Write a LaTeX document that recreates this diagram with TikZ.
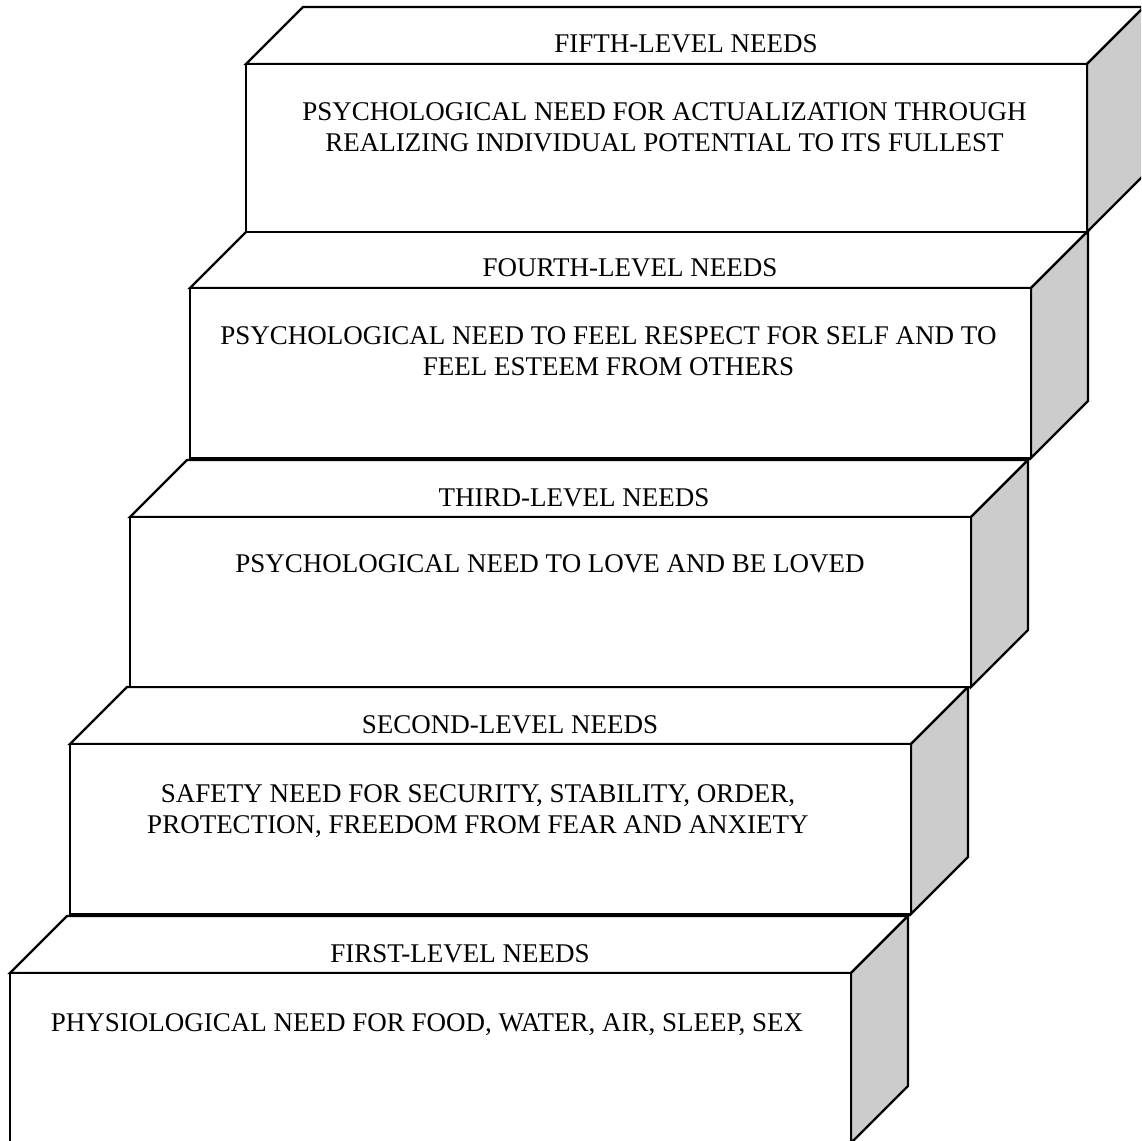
\documentclass[tikz,border=0pt]{standalone}
\usepackage{fontspec}
\setmainfont{Liberation Serif}
\definecolor{sidegray}{RGB}{204,204,204}
\begin{document}
\begin{tikzpicture}[x=1pt,y=-1pt,line width=2.2pt,line join=miter,
  face/.style={draw=black,fill=white},
  side/.style={draw=black,fill=sidegray},
  lvl/.style={font=\fontsize{27}{31}\selectfont,inner sep=0pt,anchor=base},
  body/.style={font=\fontsize{27}{31}\selectfont,inner sep=0pt,anchor=base,align=center}]
\useasboundingbox (0,0) rectangle (1141,1141);
\clip (0,0) rectangle (1141,1141);
\foreach \L/\T/\B/\n in {10/973/1143/1,70/744/914/2,130/517/687/3,190/288/458/4,246/64/232/5}{
  \draw[face] (\L,\T) -- ++(57,-57) -- ++(841,0) -- ++(-57,57) -- cycle;
  \draw[side] (\L+841,\T) -- ++(57,-57) -- (\L+898,\B-57) -- (\L+841,\B) -- cycle;
  \draw[face] (\L,\T) rectangle (\L+841,\B);
}
\node[lvl] (l5) at (686,52) {FIFTH-LEVEL NEEDS};
\node[lvl] (l4) at (630,276) {FOURTH-LEVEL NEEDS};
\node[lvl] (l3) at (574,506) {THIRD-LEVEL NEEDS};
\node[lvl] (l2) at (510,733) {SECOND-LEVEL NEEDS};
\node[lvl] (l1) at (460,962) {FIRST-LEVEL NEEDS};
\node[body] (b5) at (664.5,151) {PSYCHOLOGICAL NEED FOR ACTUALIZATION THROUGH\\REALIZING INDIVIDUAL POTENTIAL TO ITS FULLEST};
\node[body] (b4) at (608.5,375) {PSYCHOLOGICAL NEED TO FEEL RESPECT FOR SELF AND TO\\FEEL ESTEEM FROM OTHERS};
\node[body] (b3) at (550,572) {PSYCHOLOGICAL NEED TO LOVE AND BE LOVED};
\node[body] (b2) at (478,833) {SAFETY NEED FOR SECURITY, STABILITY, ORDER,\\PROTECTION, FREEDOM FROM FEAR AND ANXIETY};
\node[body] (b1) at (427,1031) {PHYSIOLOGICAL NEED FOR FOOD, WATER, AIR, SLEEP, SEX};
\end{tikzpicture}
\end{document}
